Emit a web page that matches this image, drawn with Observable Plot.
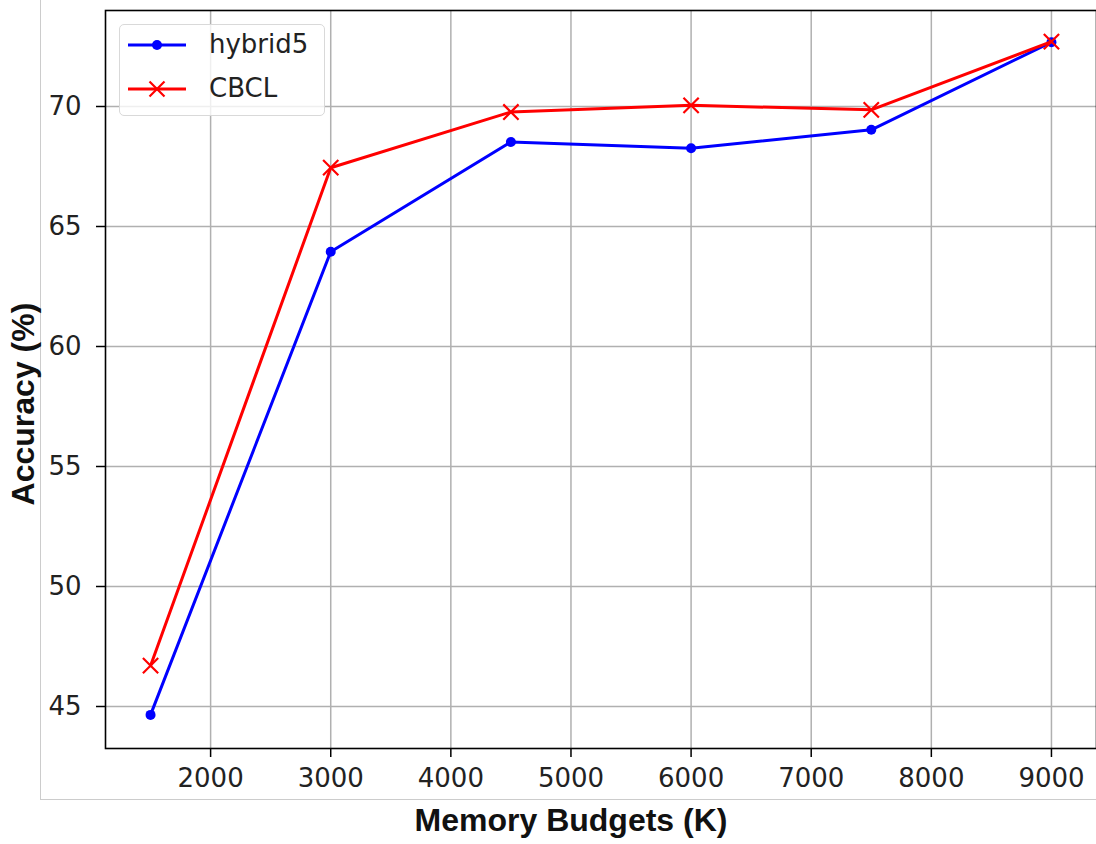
<!DOCTYPE html>
<html>
<head>
<meta charset="utf-8">
<script src="https://cdn.jsdelivr.net/npm/d3@7"></script>
<script src="https://cdn.jsdelivr.net/npm/@observablehq/plot@0.6"></script>
<style>
  html, body { margin: 0; padding: 0; background: #fff; }
  #wrap { position: relative; width: 1096px; height: 844px; overflow: hidden; }
  #border { position: absolute; left: 40px; top: -5px; width: 1100px; height: 805px;
            border-left: 1px solid #cccccc; border-bottom: 1px solid #cccccc; box-sizing: border-box; }
  #chart { position: absolute; left: 0; top: 0; }
  .xlabel { position: absolute; left: 571px; top: 800px; transform: translateX(-50%);
            font-family: "Liberation Sans", Arial, sans-serif; font-weight: bold; font-size: 32px; color: #111; white-space: nowrap; line-height: 40px; }
  .ylabel { position: absolute; left: 23px; top: 404px; transform: translate(-50%, -50%) rotate(-90deg);
            font-family: "Liberation Sans", Arial, sans-serif; font-weight: bold; font-size: 32px; color: #111; white-space: nowrap; line-height: 36px; }
  #legend { position: absolute; left: 119px; top: 24px; width: 206px; height: 92px; box-sizing: border-box;
            border: 1.5px solid #d9d9d9; border-radius: 5px; background: rgba(255,255,255,0.8); }
  #legend svg { position: absolute; left: 0; top: 0; }
  #legend .item { position: absolute; left: 89px; font-family: "DejaVu Sans", sans-serif; font-size: 26px; color: #222; line-height: 30px; }
</style>
</head>
<body>
<div id="wrap">
  <div id="border"></div>
  <div id="chart"></div>
  <div class="xlabel">Memory Budgets (K)</div>
  <div class="ylabel">Accuracy (%)</div>
  <div id="legend"></div>
</div>
<script>
// Data
const budgets = [1500, 3000, 4500, 6000, 7500, 9000];
const hybrid5 = [44.65, 63.95, 68.52, 68.26, 69.03, 72.68];
const cbcl    = [46.70, 67.45, 69.77, 70.05, 69.86, 72.70];
const seriesNames = ["hybrid5", "CBCL"];
const seriesColors = ["#0000ff", "#ff0000"];
const xTicks = [2000, 3000, 4000, 5000, 6000, 7000, 8000, 9000];
const yTicks = [45, 50, 55, 60, 65, 70];

const rowsH = budgets.map((b, i) => ({budget: b, acc: hybrid5[i], series: seriesNames[0]}));
const rowsC = budgets.map((b, i) => ({budget: b, acc: cbcl[i], series: seriesNames[1]}));

const tickFont = {fontSize: 26, fontFamily: "DejaVu Sans, sans-serif"};

const chart = Plot.plot({
  width: 1096,
  height: 844,
  marginLeft: 105,
  marginRight: 0,
  marginTop: 10,
  marginBottom: 96,
  style: {background: "transparent", color: "#111", overflow: "visible"},
  x: {domain: [1125, 9375]},
  y: {domain: [43.25, 74]},
  marks: [
    Plot.gridX(xTicks, {stroke: "#b0b0b0", strokeOpacity: 1, strokeWidth: 1.5}),
    Plot.gridY(yTicks, {stroke: "#b0b0b0", strokeOpacity: 1, strokeWidth: 1.5}),
    Plot.line(rowsH, {x: "budget", y: "acc", stroke: seriesColors[0], strokeWidth: 3}),
    Plot.dot(rowsH, {x: "budget", y: "acc", fill: seriesColors[0], r: 5, stroke: "none"}),
    Plot.line(rowsC, {x: "budget", y: "acc", stroke: seriesColors[1], strokeWidth: 3}),
    Plot.dot(rowsC, {x: "budget", y: "acc", symbol: "times", stroke: seriesColors[1], r: 7, strokeWidth: 2.2}),
    Plot.frame({stroke: "#000", strokeWidth: 1.6}),
    Plot.axisX(xTicks, {label: null, tickFormat: d3.format("d"), tickSize: 9, tickPadding: 11, stroke: "#000", strokeWidth: 1.5, fill: "#222", ...tickFont}),
    Plot.axisY(yTicks, {label: null, tickFormat: d3.format("d"), tickSize: 9, tickPadding: 15, stroke: "#000", strokeWidth: 1.5, fill: "#222", ...tickFont})
  ]
});
document.getElementById("chart").appendChild(chart);

// Legend
const legend = document.getElementById("legend");
const ns = "http://www.w3.org/2000/svg";
const lsvg = document.createElementNS(ns, "svg");
lsvg.setAttribute("width", 206);
lsvg.setAttribute("height", 92);
const rowsY = [20, 64];
seriesNames.forEach((name, i) => {
  const y = rowsY[i];
  const line = document.createElementNS(ns, "line");
  line.setAttribute("x1", 8); line.setAttribute("x2", 66);
  line.setAttribute("y1", y); line.setAttribute("y2", y);
  line.setAttribute("stroke", seriesColors[i]); line.setAttribute("stroke-width", 3);
  lsvg.appendChild(line);
  if (i === 0) {
    const c = document.createElementNS(ns, "circle");
    c.setAttribute("cx", 37); c.setAttribute("cy", y); c.setAttribute("r", 5);
    c.setAttribute("fill", seriesColors[i]);
    lsvg.appendChild(c);
  } else {
    const p = document.createElementNS(ns, "path");
    p.setAttribute("d", `M${37-7.5},${y-7.5}L${37+7.5},${y+7.5}M${37-7.5},${y+7.5}L${37+7.5},${y-7.5}`);
    p.setAttribute("stroke", seriesColors[i]); p.setAttribute("stroke-width", 2.2);
    lsvg.appendChild(p);
  }
  const t = document.createElement("div");
  t.className = "item";
  t.style.top = (y - 16) + "px";
  t.textContent = name;
  legend.appendChild(t);
});
legend.appendChild(lsvg);
</script>
</body>
</html>
